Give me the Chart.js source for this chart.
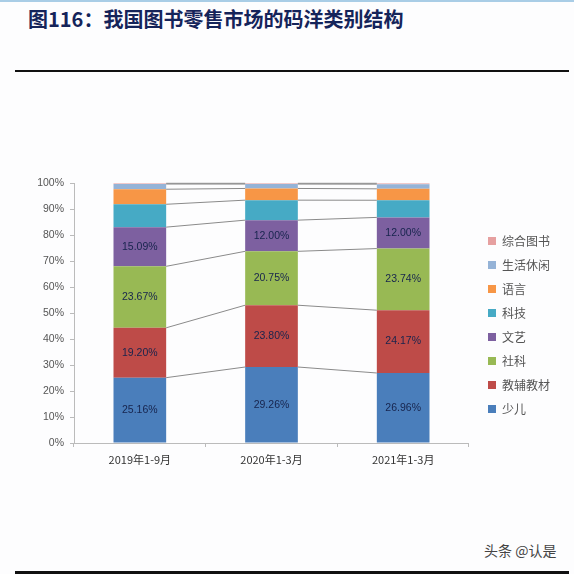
<!DOCTYPE html>
<html>
<head>
<meta charset="utf-8">
<script src="https://cdn.jsdelivr.net/npm/chart.js@4/dist/chart.umd.min.js"></script>
<style>
  body { margin: 0; width: 574px; height: 574px; background: #fdfdfe; position: relative; overflow: hidden; font-family: "Noto Sans CJK SC", sans-serif; }
  #topline { position: absolute; left: 0; top: 0; width: 574px; height: 2px; background: #a9cde6; }
  #title { position: absolute; left: 28px; top: 4px; font-size: 20px; font-weight: 700; color: #15245a; letter-spacing: 0px; }
  #rule1 { position: absolute; left: 15px; top: 70px; width: 554px; height: 2px; background: #111; }
  #rule2 { position: absolute; left: 15px; top: 571px; width: 554px; height: 3px; background: #111; }
  #mark { position: absolute; left: 484px; top: 540px; font-size: 14px; color: #444; }
  #box { position: absolute; left: 0; top: 171px; width: 574px; height: 304px; }
</style>
</head>
<body>
<div id="topline"></div>
<div id="title">图116：我国图书零售市场的码洋类别结构</div>
<div id="rule1"></div>
<div id="box"><canvas id="myChart"></canvas></div>
<div id="mark">头条 @认是</div>
<div id="rule2"></div>
<script>
periods = ["2019年1-9月", "2020年1-3月", "2021年1-3月"]

// bottom to top
shaoer   = [25.16, 29.26, 26.96]
jiaofu   = [19.20, 23.80, 24.17]
sheke    = [23.67, 20.75, 23.74]
wenyi    = [15.09, 12.00, 12.00]
keji     = [8.80, 7.70, 6.60]
yuyan    = [5.80, 4.50, 4.40]
shenghuo = [2.00, 1.70, 1.80]
zonghe   = [0.28, 0.29, 0.33]

names = ["少儿", "教辅教材", "社科", "文艺", "科技", "语言", "生活休闲", "综合图书"]
series = [shaoer, jiaofu, sheke, wenyi, keji, yuyan, shenghuo, zonghe]
colors = ["#4a7ebb", "#be4b48", "#98b954", "#7d60a0", "#46aac5", "#f79646", "#95b3d7", "#e6a0a0"]
labelled = [0, 1, 2, 3]

var connectors = {
  id: 'connectors',
  afterDatasetsDraw: function(chart) {
    var ctx = chart.ctx
    ctx.save()
    ctx.strokeStyle = '#8a8a8a'
    ctx.lineWidth = 1
    chart.data.datasets.forEach(function(ds, i) {
      var bars = chart.getDatasetMeta(i).data
      for (var k = 0; k < bars.length - 1; k++) {
        var a = bars[k], b = bars[k + 1]
        ctx.beginPath()
        ctx.moveTo(a.x + a.width / 2, a.y)
        ctx.lineTo(b.x - b.width / 2, b.y)
        ctx.stroke()
      }
    })
    ctx.font = '10.5px "Liberation Sans", sans-serif'
    ctx.fillStyle = '#17244d'
    ctx.textAlign = 'center'
    ctx.textBaseline = 'middle'
    labelled.forEach(function(i) {
      chart.getDatasetMeta(i).data.forEach(function(bar, k) {
        ctx.fillText(series[i][k].toFixed(2) + '%', bar.x, (bar.y + bar.base) / 2)
      })
    })
    ctx.restore()
  }
}

document.addEventListener('DOMContentLoaded', function() {
  var ctx = document.getElementById("myChart").getContext('2d')
  new Chart(ctx, {
    type: 'bar',
    data: {
      labels: periods,
      datasets: names.map(function(n, i) {
        return { label: n, data: series[i], backgroundColor: colors[i], borderWidth: 0,
                 barPercentage: 0.4, categoryPercentage: 1 }
      })
    },
    options: {
      responsive: true,
      maintainAspectRatio: false,
      animation: false,
      layout: { padding: { left: 30, top: 4, right: 14, bottom: 0 } },
      plugins: {
        tooltip: { enabled: false },
        legend: {
          position: 'right',
          reverse: true,
          labels: {
            boxWidth: 8, boxHeight: 8, padding: 12, color: '#555',
            font: { size: 12, family: '"Noto Sans CJK SC"' }
          }
        }
      },
      scales: {
        x: {
          stacked: true,
          grid: { drawOnChartArea: false, tickLength: 4, color: '#bbb' },
          border: { color: '#bbb' },
          ticks: { color: '#333', font: { size: 11, family: '"Noto Sans CJK SC"' }, padding: 6 },
          afterFit: function(s) { s.height = 32 }
        },
        y: {
          stacked: true,
          min: 0, max: 100,
          grid: { drawOnChartArea: false, tickLength: 4, color: '#bbb' },
          border: { color: '#bbb' },
          ticks: { stepSize: 10, color: '#555', padding: 6, font: { size: 10.5, family: '"Liberation Sans"' },
                   callback: function(v) { return v + '%' } },
          afterFit: function(s) { s.width = 44 }
        },
        // empty spacer between plot and legend
        gap: {
          type: 'linear', position: 'right',
          grid: { display: false }, border: { display: false }, ticks: { display: false },
          afterFit: function(s) { s.width = 7 }
        }
      }
    },
    plugins: [connectors]
  })
})
</script>
</body>
</html>
